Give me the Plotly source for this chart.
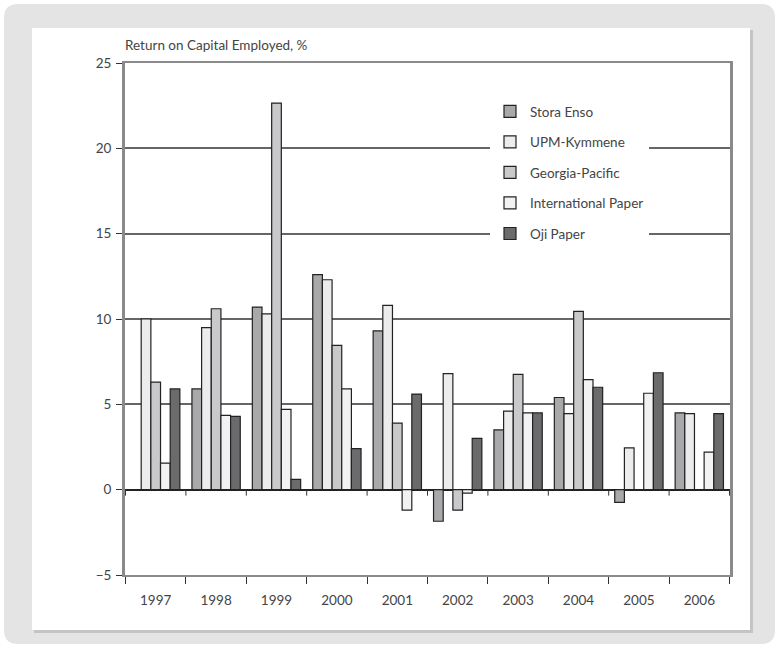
import plotly.graph_objects as go

years = ["1997", "1998", "1999", "2000", "2001", "2002", "2003", "2004", "2005", "2006"]
stora_enso = [None, 5.9, 10.7, 12.6, 9.3, -1.85, 3.5, 5.4, -0.75, 4.5]
upm_kymmene = [10.0, 9.5, 10.3, 12.3, 10.8, 6.8, 4.6, 4.45, 2.45, 4.45]
georgia_pacific = [6.3, 10.6, 22.65, 8.45, 3.9, -1.2, 6.75, 10.45, None, None]
international_paper = [1.55, 4.35, 4.7, 5.9, -1.2, -0.2, 4.5, 6.45, 5.65, 2.2]
oji_paper = [5.9, 4.3, 0.6, 2.4, 5.6, 3.0, 4.5, 6.0, 6.85, 4.45]

series = [
    ("Stora Enso", stora_enso, "#a9a9ab"),
    ("UPM-Kymmene", upm_kymmene, "#ececec"),
    ("Georgia-Pacific", georgia_pacific, "#c9c9cb"),
    ("International Paper", international_paper, "#f2f2f2"),
    ("Oji Paper", oji_paper, "#6b6b6d"),
]

fig = go.Figure()
for i, (name, vals, col) in enumerate(series):
    fig.add_trace(go.Bar(
        x=years, y=vals, name=name, legendgroup=str(i),
        marker=dict(color=col, line=dict(color="#222222", width=1.2)),
    ))

W, H = 779, 648
L, R, T, B = 125, 730, 63, 575
pw, ph = R - L, B - T

def px(x):
    return (x - L) / pw

def py(y):
    return (B - y) / ph

def rounded(x0, y0, x1, y1, r):
    rx, ry = r / pw, r / ph
    a, b, c, d = px(x0), py(y1), px(x1), py(y0)
    return (f"M {a+rx},{b} L {c-rx},{b} Q {c},{b} {c},{b+ry} L {c},{d-ry} Q {c},{d} {c-rx},{d} "
            f"L {a+rx},{d} Q {a},{d} {a},{d-ry} L {a},{b+ry} Q {a},{b} {a+rx},{b} Z")

shapes = [
    dict(type="path", xref="paper", yref="paper", path=rounded(4, 4, 775, 644, 14),
         fillcolor="#e4e4e4", line=dict(width=0), layer="below"),
    dict(type="rect", xref="paper", yref="paper", x0=px(34), x1=px(753), y0=py(633), y1=py(30),
         fillcolor="#c4c4c4", line=dict(width=0), layer="below"),
    dict(type="rect", xref="paper", yref="paper", x0=px(32), x1=px(750), y0=py(630), y1=py(28),
         fillcolor="#ffffff", line=dict(width=0), layer="below"),
]
for k in range(len(years) + 1):
    shapes.append(dict(type="line", xref="x", yref="y", x0=k - 0.5, x1=k - 0.5, y0=0, y1=-0.35,
                       line=dict(color="#333333", width=1)))

fig.update_layout(
    width=W, height=H,
    margin=dict(l=L, r=W - R, t=T, b=H - B),
    paper_bgcolor="#ffffff",
    plot_bgcolor="#ffffff",
    barmode="group", bargap=0.2, bargroupgap=0,
    font=dict(family="Lato, 'Open Sans', sans-serif", color="#333333", size=13),
    shapes=shapes,
    showlegend=True,
    legend=dict(x=px(490), y=py(96), xanchor="left", yanchor="top",
                bgcolor="#ffffff", borderwidth=0, tracegroupgap=10,
                font=dict(size=13.5, color="#444444")),
    annotations=[dict(text="Return on Capital Employed, %", xref="paper", yref="paper",
                      x=px(123), y=py(45), xanchor="left", yanchor="middle", showarrow=False,
                      font=dict(size=13.5, color="#444444"))],
    xaxis=dict(showgrid=False, ticks="outside", tickson="boundaries", ticklen=7,
               tickcolor="#333333", showline=True, linecolor="#8a8a8a", linewidth=2,
               mirror=True, ticklabelstandoff=12, tickfont=dict(size=13.5, color="#444444")),
    yaxis=dict(range=[-5, 25], dtick=5, showgrid=True, gridcolor="#666666", gridwidth=1.5,
               zeroline=True, zerolinecolor="#222222", zerolinewidth=1.5,
               ticks="outside", ticklen=6, tickcolor="#333333",
               showline=True, linecolor="#8a8a8a", linewidth=3, mirror=True,
               ticklabelstandoff=2, tickfont=dict(size=13.5, color="#444444")),
)

fig.write_html("out.html", config={"displayModeBar": False},
               post_script="document.body.style.margin='0';document.body.style.padding='0';")
